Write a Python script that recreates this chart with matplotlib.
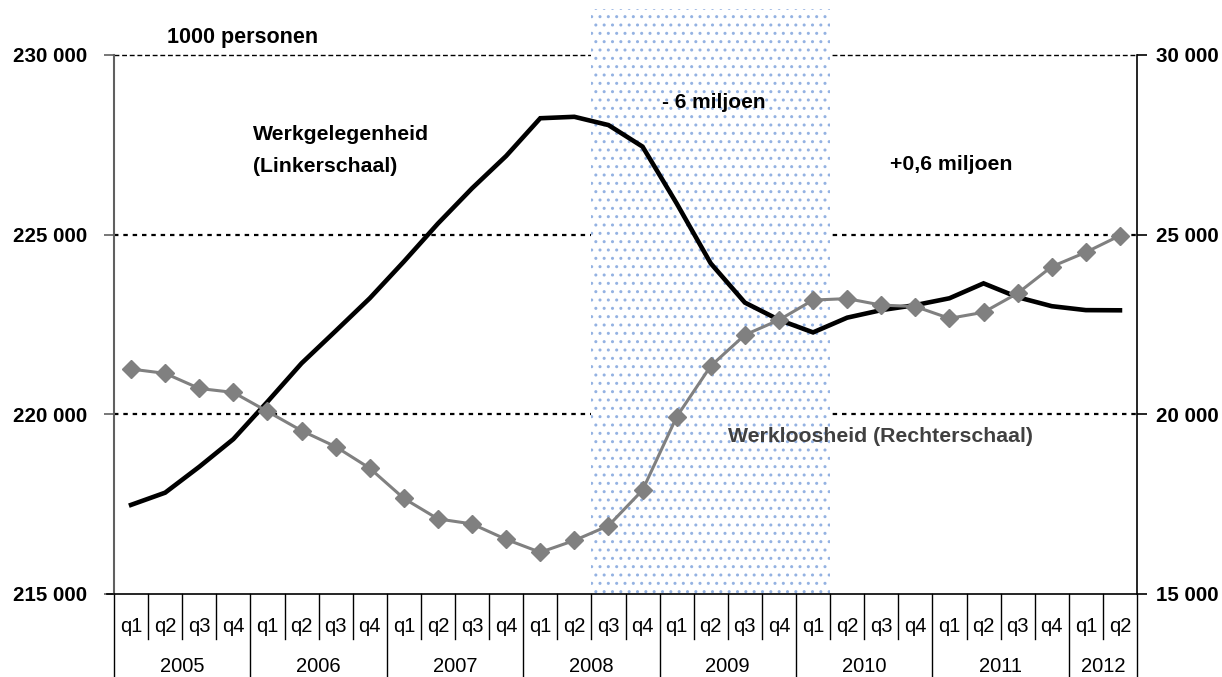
import matplotlib
matplotlib.use("Agg")
import matplotlib.pyplot as plt
import matplotlib.transforms as mtransforms
from matplotlib.patches import Rectangle

plt.rcParams['font.family'] = ['Liberation Sans', 'DejaVu Sans']
plt.rcParams['hatch.linewidth'] = 1.0

# ---- data ----
years = ['2005', '2006', '2007', '2008', '2009', '2010', '2011', '2012']
quarters_per_year = [4, 4, 4, 4, 4, 4, 4, 2]
quarter_labels = ['q1', 'q2', 'q3', 'q4'] * 7 + ['q1', 'q2']

werkgelegenheid = [217480, 217820, 218540, 219310, 220350, 221420, 222320, 223230,
                   224250, 225310, 226290, 227190, 228240, 228280, 228050, 227450,
                   225870, 224200, 223110, 222630, 222280, 222690, 222900, 223040,
                   223230, 223645, 223260, 223010, 222900, 222895]
werkloosheid = [21260, 21140, 20720, 20610, 20080, 19545, 19100, 18500,
                17660, 17090, 16950, 16520, 16160, 16490, 16900, 17890,
                19930, 21345, 22210, 22625, 23180, 23220, 23040, 23000,
                22670, 22840, 23370, 24110, 24510, 24975]

left_ticks = [215000, 220000, 225000, 230000]
right_ticks = [15000, 20000, 25000, 30000]
crisis_start, crisis_end = 14, 20   # 2008q3 .. 2010q1

W, H = 1222, 677
fig = plt.figure(figsize=(W / 100, H / 100), dpi=100)
x0, x1, ytop, ybot = 114, 1137, 55, 594
ax = fig.add_axes([x0 / W, 1 - ybot / H, (x1 - x0) / W, (ybot - ytop) / H])
ax2 = ax.twinx()

n = len(werkgelegenheid)
xs = list(range(n))
ax.set_xlim(-0.5, n - 0.5)
ax.set_ylim(215000, 230000)
ax2.set_ylim(15000, 30000)

# gridlines
for v in left_ticks[1:3]:
    ax.axhline(v, color='black', lw=1.6, ls=(0, (2, 2.2)), zorder=1)
ax.axhline(230000, color='black', lw=1.0, ls=(0, (3.5, 2)), zorder=1, clip_on=False)

# crisis shaded region
trans = mtransforms.blended_transform_factory(ax.transData, ax.transAxes)
rect = Rectangle((crisis_start - 0.5, 0), crisis_end - crisis_start + 1, (ybot - 9) / (ybot - ytop),
                 transform=trans, facecolor='white', edgecolor='#94b2e2', lw=0,
                 hatch='..', zorder=2, clip_on=False)
ax.add_patch(rect)

ax.plot(xs, werkgelegenheid, color='black', lw=3.3, zorder=5, solid_joinstyle='miter')
ax2.plot(xs, werkloosheid, color='#808080', lw=2.2, marker='D', markersize=9,
         markerfacecolor='#808080', markeredgecolor='#808080', zorder=5)

# spines
ax.spines['top'].set_visible(False)
ax2.spines['top'].set_visible(False)
ax2.spines['left'].set_visible(False)
ax2.spines['bottom'].set_visible(False)
ax.spines['right'].set_visible(False)
ax.spines['left'].set_color('#606060')
ax.spines['left'].set_linewidth(1.5)
ax2.spines['right'].set_color('black')
ax2.spines['right'].set_linewidth(1.2)
ax.spines['bottom'].set_color('black')
ax.spines['bottom'].set_linewidth(1.2)

ax.set_yticks(left_ticks)
ax.set_yticklabels([f"{v:,}".replace(',', ' ') for v in left_ticks], fontsize=14.8, fontweight='bold')
ax2.set_yticks(right_ticks)
ax2.set_yticklabels([f"{v:,}".replace(',', ' ') for v in right_ticks], fontsize=14.8, fontweight='bold')
ax.tick_params(axis='y', direction='out', length=7, width=1.2, color='#606060', pad=12)
ax2.tick_params(axis='y', direction='out', length=7, width=1.2, color='black', pad=7)
ax.set_xticks([])

# left stub of x axis line
ax.plot([-0.5 - 7 / 34.1, -0.5], [0, 0], transform=trans, color='black', lw=1.2, clip_on=False)

# category axis (two-level)
def ay(py):
    return (ybot - py) / (ybot - ytop)

q_sep_bottom = ay(639)
y_sep_bottom = ay(677)
year_bounds = [0]
for q in quarters_per_year:
    year_bounds.append(year_bounds[-1] + q)
for i in range(n + 1):
    xb = i - 0.5
    bottom = y_sep_bottom if i in year_bounds else q_sep_bottom
    ax.plot([xb, xb], [0, bottom], transform=trans, color='black', lw=1.0, clip_on=False)
for i, lab in enumerate(quarter_labels):
    ax.text(i, ay(627), lab, transform=trans, ha='center', va='center', fontsize=14.5)
for k, yr in enumerate(years):
    c = (year_bounds[k] + year_bounds[k + 1] - 1) / 2
    ax.text(c, ay(667), yr, transform=trans, ha='center', va='center', fontsize=14.5)

# annotations
def ft(px, py, s, **kw):
    fig.text(px / W, 1 - py / H, s, va='center', **kw)

ft(167, 37, '1000 personen', fontsize=15.5, fontweight='bold')
ft(253, 135, 'Werkgelegenheid', fontsize=15.3, fontweight='bold')
ft(253, 167, '(Linkerschaal)', fontsize=15.3, fontweight='bold')
ft(662, 103, '- 6 miljoen', fontsize=15, fontweight='bold')
ft(890, 165, '+0,6 miljoen', fontsize=15.3, fontweight='bold')
ft(728, 437, 'Werkloosheid (Rechterschaal)', fontsize=15.3, fontweight='bold', color='#404040')

fig.savefig('out.png', dpi=100)
